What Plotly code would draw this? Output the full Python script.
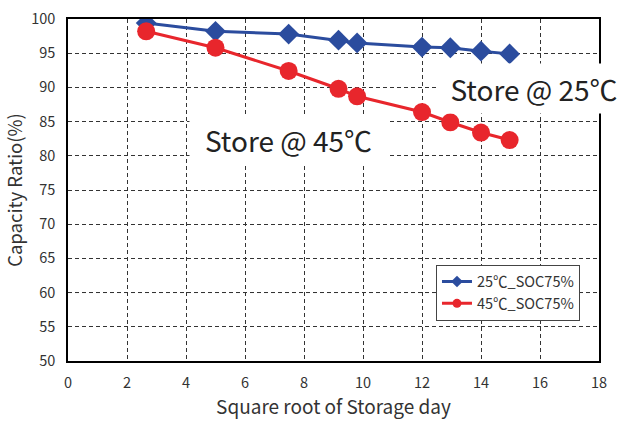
import plotly.graph_objects as go

x_days = [2.65, 5.0, 7.48, 9.17, 9.8, 12.0, 12.96, 14.0, 14.97]
cap_25 = [99.4, 98.2, 97.8, 96.9, 96.5, 95.9, 95.8, 95.3, 94.9]
cap_45 = [98.2, 95.8, 92.4, 89.8, 88.7, 86.4, 84.9, 83.4, 82.3]
x_ticks = list(range(0, 19, 2))
y_ticks = list(range(50, 101, 5))
series_names = ["25℃_SOC75%", "45℃_SOC75%"]

FONT = "Noto Sans CJK JP"
BLUE = "#2B4C9E"
RED = "#E8262C"
TXT = "#333333"

fig = go.Figure()
fig.add_trace(go.Scatter(x=x_days, y=cap_25, mode="lines+markers", showlegend=False,
                         line=dict(color=BLUE, width=3),
                         marker=dict(symbol="diamond", size=16, color=BLUE)))
fig.add_trace(go.Scatter(x=x_days, y=cap_45, mode="lines+markers", showlegend=False,
                         line=dict(color=RED, width=3),
                         marker=dict(symbol="circle", size=18, color=RED)))
# legend entries with smaller symbols
fig.add_trace(go.Scatter(x=[None], y=[None], mode="lines+markers", name=series_names[0],
                         line=dict(color=BLUE, width=3),
                         marker=dict(symbol="diamond", size=9, color=BLUE)))
fig.add_trace(go.Scatter(x=[None], y=[None], mode="lines+markers", name=series_names[1],
                         line=dict(color=RED, width=3),
                         marker=dict(symbol="circle", size=9, color=RED)))

# lighter grid line at 60
fig.add_shape(type="line", xref="x", yref="y", x0=0, x1=18, y0=60, y1=60,
              line=dict(color="white", width=2), layer="below")
fig.add_shape(type="line", xref="x", yref="y", x0=0, x1=18, y0=60, y1=60,
              line=dict(color="#BBBBBB", width=1, dash="4px,3px"), layer="below")

fig.add_annotation(x=15.8, y=89.8, text="Store @ 25℃", showarrow=False,
                   font=dict(family=FONT, size=28, color="#222"),
                   bgcolor="white", borderpad=0, width=192, height=49,
                   xanchor="center", yanchor="middle")
fig.add_annotation(x=7.49, y=82.3, text="Store @ 45℃", showarrow=False,
                   font=dict(family=FONT, size=28, color="#222"),
                   bgcolor="white", borderpad=0, width=197, height=50,
                   xanchor="center", yanchor="middle")

fig.update_layout(
    width=621, height=423,
    margin=dict(l=68, r=22, t=19, b=62, autoexpand=False),
    paper_bgcolor="white", plot_bgcolor="white",
    font=dict(family=FONT, size=14.5, color=TXT),
    showlegend=True,
    legend=dict(x=0.693, y=0.282, xanchor="left", yanchor="top",
                bgcolor="white", bordercolor="#444", borderwidth=1,
                font=dict(family=FONT, size=14.5, color=TXT),
                tracegroupgap=0, itemwidth=30),
)
fig.update_xaxes(range=[0, 18], tickvals=x_ticks, showline=True, linecolor="black",
                 linewidth=1.5, mirror=True, showgrid=True, gridcolor="#333",
                 griddash="4px,3px", gridwidth=1, zeroline=False, ticks="",
                 automargin=False, ticklabelstandoff=8,
                 title=dict(text="Square root of Storage day", font=dict(size=19, color=TXT), standoff=9))
fig.update_yaxes(range=[50, 100], tickvals=y_ticks, showline=True, linecolor="black",
                 linewidth=1.5, mirror=True, showgrid=True, gridcolor="#333",
                 griddash="4px,3px", gridwidth=1, zeroline=False, ticks="",
                 automargin=False, ticklabelstandoff=8,
                 title=dict(text="Capacity Ratio(%)", font=dict(size=18.5, color=TXT), standoff=4))

fig.write_html("out.html", config={"displayModeBar": False},
               post_script="document.body.style.margin='0px';document.body.style.overflow='hidden';")
